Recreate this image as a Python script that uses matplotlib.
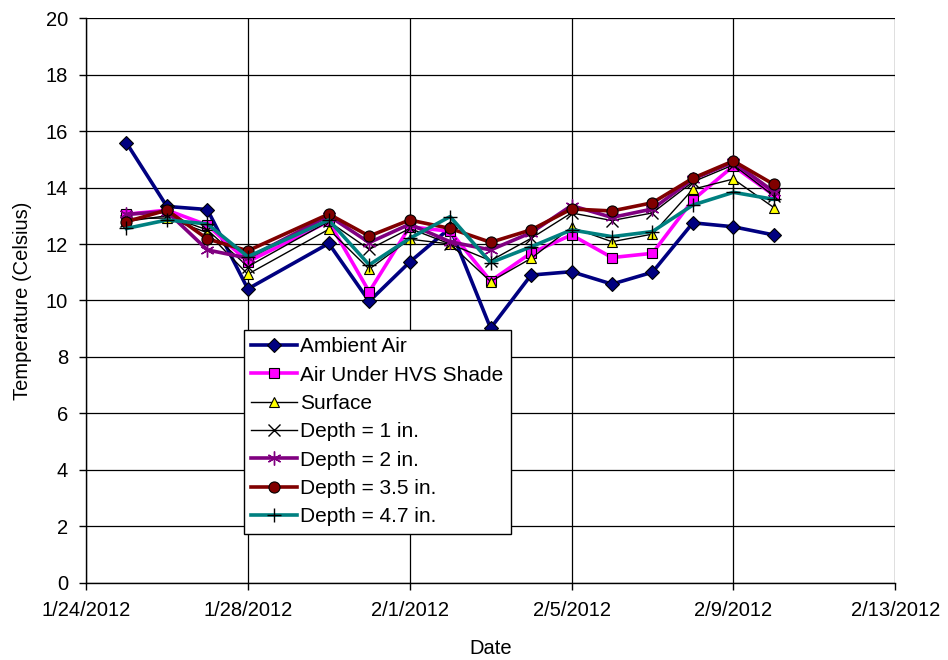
import matplotlib
matplotlib.use("Agg")
import matplotlib.pyplot as plt
from datetime import datetime

# Measurement dates (no reading on 1/29)
dates = ["2012-01-25", "2012-01-26", "2012-01-27", "2012-01-28", "2012-01-30",
         "2012-01-31", "2012-02-01", "2012-02-02", "2012-02-03", "2012-02-04",
         "2012-02-05", "2012-02-06", "2012-02-07", "2012-02-08", "2012-02-09",
         "2012-02-10"]

ambient_air = [15.58, 13.33, 13.22, 10.41, 12.02, 9.97, 11.36, 12.57, 9.02, 10.90,
               11.02, 10.58, 11.00, 12.75, 12.61, 12.32]
air_under_shade = [13.05, 13.20, 12.67, 11.37, 12.80, 10.31, 12.61, 12.45, 10.69, 11.68,
                   12.32, 11.52, 11.67, 13.56, 14.76, 13.73]
surface = [12.90, 12.92, 12.40, 10.93, 12.52, 11.11, 12.17, 12.00, 10.67, 11.49,
           12.59, 12.08, 12.35, 13.94, 14.30, 13.29]
depth_1in = [12.80, 13.00, 12.50, 11.20, 12.80, 11.81, 12.55, 12.00, 11.41, 12.20,
             13.10, 12.83, 13.10, 14.20, 14.80, 13.70]
depth_2in = [13.05, 13.15, 11.79, 11.50, 13.00, 12.05, 12.70, 12.08, 11.79, 12.40,
             13.36, 12.94, 13.24, 14.30, 14.90, 13.85]
depth_3_5in = [12.79, 13.20, 12.18, 11.76, 13.06, 12.28, 12.85, 12.55, 12.06, 12.50,
               13.24, 13.17, 13.46, 14.33, 14.94, 14.11]
depth_4_7in = [12.55, 12.85, 12.71, 11.55, 12.85, 11.26, 12.20, 12.97, 11.34, 11.90,
               12.50, 12.26, 12.44, 13.38, 13.83, 13.58]

series_labels = ["Ambient Air", "Air Under HVS Shade", "Surface", "Depth = 1 in.",
                 "Depth = 2 in.", "Depth = 3.5 in.", "Depth = 4.7 in."]

x_tick_dates = ["2012-01-24", "2012-01-28", "2012-02-01", "2012-02-05",
                "2012-02-09", "2012-02-13"]
x_tick_labels = ["1/24/2012", "1/28/2012", "2/1/2012", "2/5/2012", "2/9/2012", "2/13/2012"]
y_ticks = [0, 2, 4, 6, 8, 10, 12, 14, 16, 18, 20]

plt.rcParams["font.family"] = ["Liberation Sans", "DejaVu Sans"]

x = [datetime.strptime(d, "%Y-%m-%d") for d in dates]
xt = [datetime.strptime(d, "%Y-%m-%d") for d in x_tick_dates]

fig = plt.figure(figsize=(9.48, 6.60), dpi=100)
ax = fig.add_axes([0.0907, 0.1167, 0.8536, 0.856])

asterisk = (6, 2, 0)
styles = [
    dict(color="#000080", lw=2.6, marker="D", ms=7.5, mfc="#000080", mec="black", mew=0.8),
    dict(color="#FF00FF", lw=2.6, marker="s", ms=7, mfc="#FF00FF", mec="black", mew=0.8),
    dict(color="black", lw=1.0, marker="^", ms=7, mfc="#FFFF00", mec="black", mew=0.8),
    dict(color="black", lw=1.0, marker="x", ms=8, mfc="black", mec="black", mew=1.0),
    dict(color="#800080", lw=2.6, marker=asterisk, ms=10, mfc="#800080", mec="#800080", mew=1.0),
    dict(color="#800000", lw=2.6, marker="o", ms=8, mfc="#800000", mec="black", mew=0.8),
    dict(color="#008080", lw=2.6, marker="+", ms=10, mfc="black", mec="black", mew=1.0),
]
all_series = [ambient_air, air_under_shade, surface, depth_1in, depth_2in,
              depth_3_5in, depth_4_7in]

for vals, lab, st in zip(all_series, series_labels, styles):
    ax.plot(x, vals, label=lab, zorder=3, **st)

ax.set_xlim(xt[0], xt[-1])
ax.set_ylim(0, 20)
ax.set_xticks(xt)
ax.set_xticklabels(x_tick_labels)
ax.set_yticks(y_ticks)
ax.set_yticklabels([str(v) for v in y_ticks])

ax.grid(True, color="black", lw=0.9, zorder=1)
for side in ("top", "right"):
    ax.spines[side].set_visible(False)
for side in ("left", "bottom"):
    ax.spines[side].set_color("black")
    ax.spines[side].set_linewidth(1.0)
    ax.spines[side].set_zorder(2)

ax.tick_params(axis="both", direction="out", length=5, width=1, color="black",
               labelsize=14.5, pad=8)
ax.set_xlabel("Date", fontsize=14.5, labelpad=14)
ax.set_ylabel("Temperature (Celsius)", fontsize=14.5, labelpad=10)

leg = ax.legend(loc="upper left", bbox_to_anchor=(0.195, 0.448), fontsize=15,
                frameon=True, fancybox=False, framealpha=1, edgecolor="black",
                handlelength=2.2, handletextpad=0.15, labelspacing=0.45,
                borderpad=0.35, borderaxespad=0)
leg.get_frame().set_linewidth(1.0)
leg.set_zorder(5)

fig.savefig("out.png", dpi=100, facecolor="white")
